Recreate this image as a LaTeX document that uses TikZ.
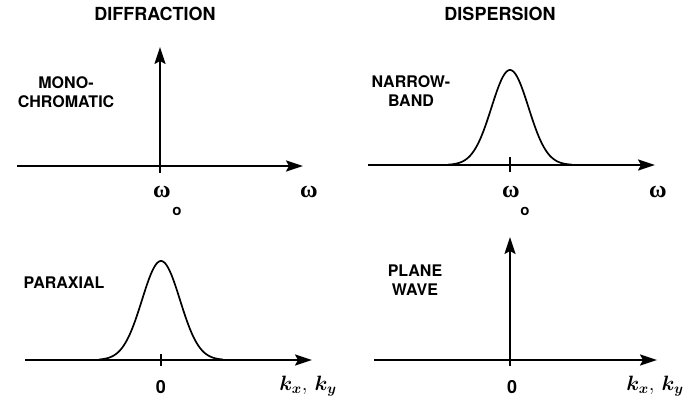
\documentclass[tikz,border=0pt]{standalone}
\usepackage{amsmath}
\usepackage{fontspec}
\setmainfont{TeX Gyre Heros}
\newfontfamily\omfont{Liberation Serif}
\usetikzlibrary{arrows.meta}
\begin{document}
\begin{tikzpicture}[x=1pt,y=-1pt,
  ax/.style={line width=1.9pt,-{Stealth[length=17pt,width=11pt,inset=3pt]}},
  gauss/.style={line width=1.7pt},
  tickmark/.style={line width=1.9pt},
  ttl/.style={font=\fontsize{18}{18}\selectfont\bfseries,inner sep=0pt},
  lab/.style={font=\fontsize{16}{19}\selectfont\bfseries,align=center,inner sep=0pt},
  om/.style={font=\fontsize{24}{24}\selectfont\omfont\bfseries,inner sep=0pt},
  sub/.style={font=\fontsize{15}{15}\selectfont\bfseries,inner sep=0pt},
  zero/.style={font=\fontsize{18}{18}\selectfont\bfseries,inner sep=0pt},
  kk/.style={font=\fontsize{20}{20}\selectfont,inner sep=0pt}]
\useasboundingbox (0,0) rectangle (684,403);
% titles
\node[ttl] (t1) at (155,14) {DIFFRACTION};
\node[ttl] (t2) at (500,14) {DISPERSION};
% top-left
\coordinate (a1s) at (17,166); \coordinate (a1e) at (303,166);
\draw[ax] (a1s) -- (a1e);
\coordinate (v1b) at (160,173); \coordinate (v1t) at (160,47);
\draw[ax] (v1b) -- (v1t);
\node[lab] (l1) at (66,92) {MONO-\\CHROMATIC};
\node[om] (w1) at (162,192) {ω};
\node[sub] (s1) at (177,211) {o};
\node[om] (w1r) at (309,192) {ω};
% top-right
\coordinate (a2s) at (368,165); \coordinate (a2e) at (655,165);
\draw[ax] (a2s) -- (a2e);
\draw[gauss] plot[domain=-62:62,samples=80] ({510+\x},{165-95*exp(-((\x/18.5)^2)/2)});
\coordinate (k2a) at (510,157); \coordinate (k2b) at (510,172);
\draw[tickmark] (k2a) -- (k2b);
\node[lab] (l2) at (411,91) {NARROW-\\BAND};
\node[om] (w2) at (511,192) {ω};
\node[sub] (s2) at (525,211) {o};
\node[om] (w2r) at (658,192) {ω};
% bottom-left
\coordinate (a3s) at (25,360); \coordinate (a3e) at (312,360);
\draw[ax] (a3s) -- (a3e);
\draw[gauss] plot[domain=-62:62,samples=80] ({161+\x},{360-99*exp(-((\x/19)^2)/2)});
\coordinate (k3a) at (161,354); \coordinate (k3b) at (161,366);
\draw[tickmark] (k3a) -- (k3b);
\node[lab] (l3) at (64,283) {PARAXIAL};
\node[zero] (z3) at (161,387) {0};
\node[kk] (kx3) at (308,386) {$\boldsymbol{k_x},\,\boldsymbol{k_y}$};
% bottom-right
\coordinate (a4s) at (374,360); \coordinate (a4e) at (657,360);
\draw[ax] (a4s) -- (a4e);
\coordinate (v4b) at (510,366); \coordinate (v4t) at (510,237);
\draw[ax] (v4b) -- (v4t);
\node[lab] (l4) at (415,280) {PLANE\\WAVE};
\node[zero] (z4) at (512,387) {0};
\node[kk] (kx4) at (655,386) {$\boldsymbol{k_x},\,\boldsymbol{k_y}$};
\end{tikzpicture}
\end{document}
